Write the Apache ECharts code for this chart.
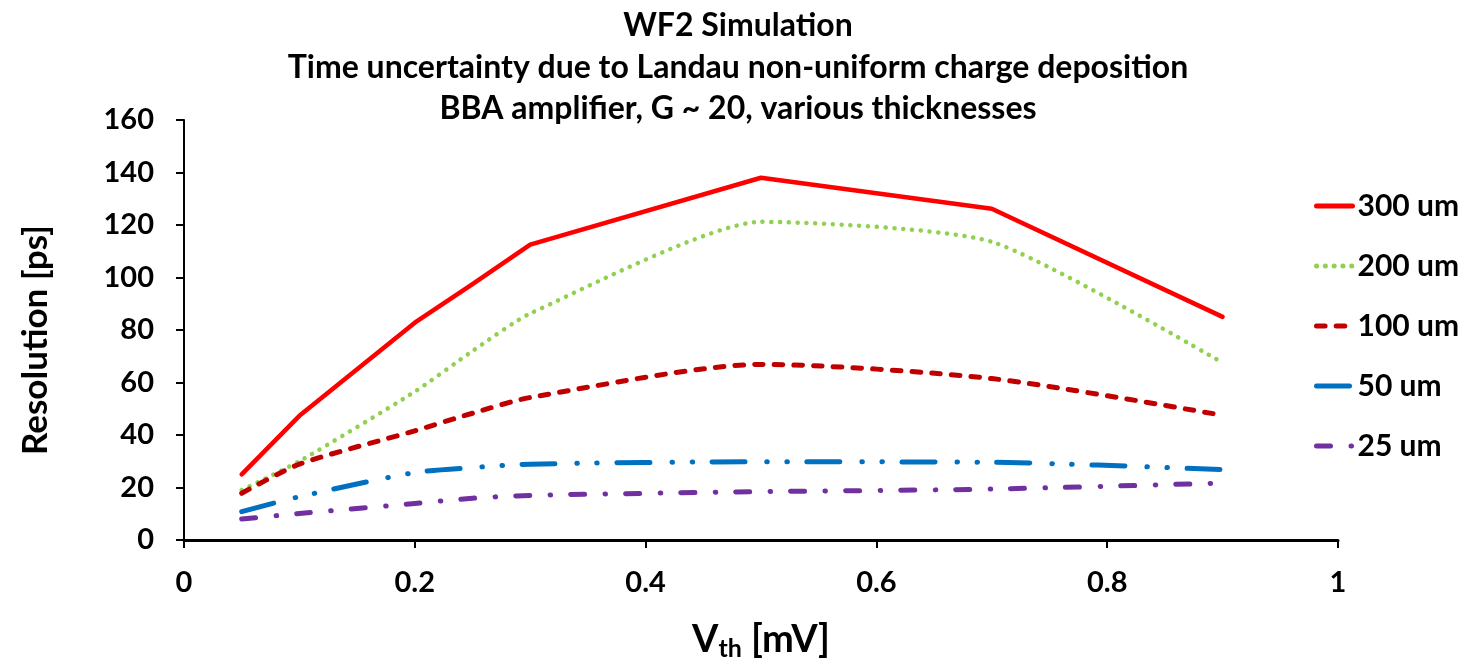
<!DOCTYPE html>
<html>
<head>
<meta charset="utf-8">
<script src="https://cdn.jsdelivr.net/npm/echarts@6/dist/echarts.min.js"></script>
<style>
  html, body { margin: 0; padding: 0; background: #ffffff; }
  #chart { width: 1463px; height: 666px; }
</style>
</head>
<body>
<div id="chart"></div>
<script>
// Threshold voltage samples [mV]
const vth = [0.05, 0.1, 0.2, 0.25, 0.3, 0.5, 0.7, 0.9];

// Time resolution [ps] for each sensor thickness
const res300 = [25, 47.3, 82.8, 97.5, 112.5, 138, 126.2, 85];
const res200 = [19, 30, 56.5, 72, 86.3, 121.2, 113.6, 67.5];
const res100 = [17.8, 28.9, 41.6, 48.3, 54.3, 66.9, 61.5, 47.5];
const res50  = [10.8, 16.5, 25.7, 27.6, 28.9, 29.8, 29.6, 26.8];
const res25  = [8, 10.1, 13.9, 15.9, 17, 18.4, 19.4, 21.7];

const seriesNames = ['300 um', '200 um', '100 um', '50 um', '25 um'];
const titleLines = [
  'WF2 Simulation',
  'Time uncertainty due to Landau non-uniform charge deposition',
  'BBA amplifier, G ~ 20, various thicknesses'
];
const yAxisTitle = 'Resolution [ps]';

const FONT = 'Lato, "Liberation Sans", "DejaVu Sans", sans-serif';

function pairs(ys) {
  return vth.map((x, i) => [x, ys[i]]);
}

const chart = echarts.init(document.getElementById('chart'), null, { renderer: 'canvas' });

const baseLine = (name, ys, color, width, type, smooth) => ({
  name: name,
  type: 'line',
  data: pairs(ys),
  symbol: 'none',
  smooth: smooth,
  lineStyle: { color: color, width: width, type: type, cap: 'round', join: 'round' },
  itemStyle: { color: color },
  emphasis: { disabled: true },
  animation: false
});

chart.setOption({
  backgroundColor: '#ffffff',
  textStyle: { fontFamily: FONT },
  title: {
    text: titleLines.join('\n'),
    left: 733,
    textAlign: 'center',
    top: 0,
    textStyle: {
      fontFamily: FONT,
      fontSize: 32,
      fontWeight: 'bold',
      color: '#000',
      lineHeight: 41.5
    }
  },
  grid: { left: 184, top: 120, width: 1154, height: 421, containLabel: false },
  // Vertical axis title, drawn as rotated text beside the value axis
  graphic: [{
    type: 'text',
    x: 36,
    y: 340,
    rotation: Math.PI / 2,
    style: {
      text: yAxisTitle,
      fontFamily: FONT,
      fontSize: 35,
      fontWeight: 'bold',
      fill: '#000',
      align: 'center',
      verticalAlign: 'middle'
    }
  }],
  legend: {
    orient: 'vertical',
    left: 1309,
    top: 186,
    itemWidth: 36,
    itemHeight: 14,
    itemGap: 30,
    data: seriesNames,
    itemStyle: { opacity: 0 },
    lineStyle: { width: 5, cap: 'round' },
    textStyle: {
      fontFamily: FONT,
      fontSize: 30,
      fontWeight: 'bold',
      color: '#000',
      lineHeight: 30
    }
  },
  xAxis: {
    type: 'value',
    min: 0,
    max: 1,
    interval: 0.2,
    name: '{v|V}{s|th}{v| [mV]}',
    nameLocation: 'middle',
    nameGap: 79,
    nameTextStyle: {
      rich: {
        v: { fontFamily: FONT, fontSize: 38, fontWeight: 'bold', color: '#000' },
        s: { fontFamily: FONT, fontSize: 25, fontWeight: 'bold', color: '#000', verticalAlign: 'bottom', padding: [17, 0, 0, 0] }
      }
    },
    axisLine: { show: true, onZero: false, lineStyle: { color: '#000', width: 3 } },
    axisTick: { show: true, length: 8, lineStyle: { color: '#000', width: 2 } },
    axisLabel: { margin: 28, fontFamily: FONT, fontSize: 29, fontWeight: 'bold', color: '#000' },
    splitLine: { show: false }
  },
  yAxis: {
    type: 'value',
    min: 0,
    max: 160,
    interval: 20,
    axisLine: { show: true, lineStyle: { color: '#000', width: 2 } },
    axisTick: { show: true, length: 8, lineStyle: { color: '#000', width: 2 } },
    axisLabel: { margin: 30, fontFamily: FONT, fontSize: 29, fontWeight: 'bold', color: '#000' },
    splitLine: { show: false }
  },
  series: [
    baseLine(seriesNames[0], res300, '#FF0000', 4.5, 'solid', false),
    baseLine(seriesNames[1], res200, '#92D050', 4.5, [0.1, 8.7], 0.2),
    baseLine(seriesNames[2], res100, '#C00000', 5, [8.6, 11.1], 0.25),
    baseLine(seriesNames[3], res50,  '#0070C0', 5, [33, 22, 0.5, 19.5, 0.5, 19.5], 0.25),
    baseLine(seriesNames[4], res25,  '#7030A0', 5, [14, 20.5, 0.5, 20], 0.25)
  ]
});
</script>
</body>
</html>
